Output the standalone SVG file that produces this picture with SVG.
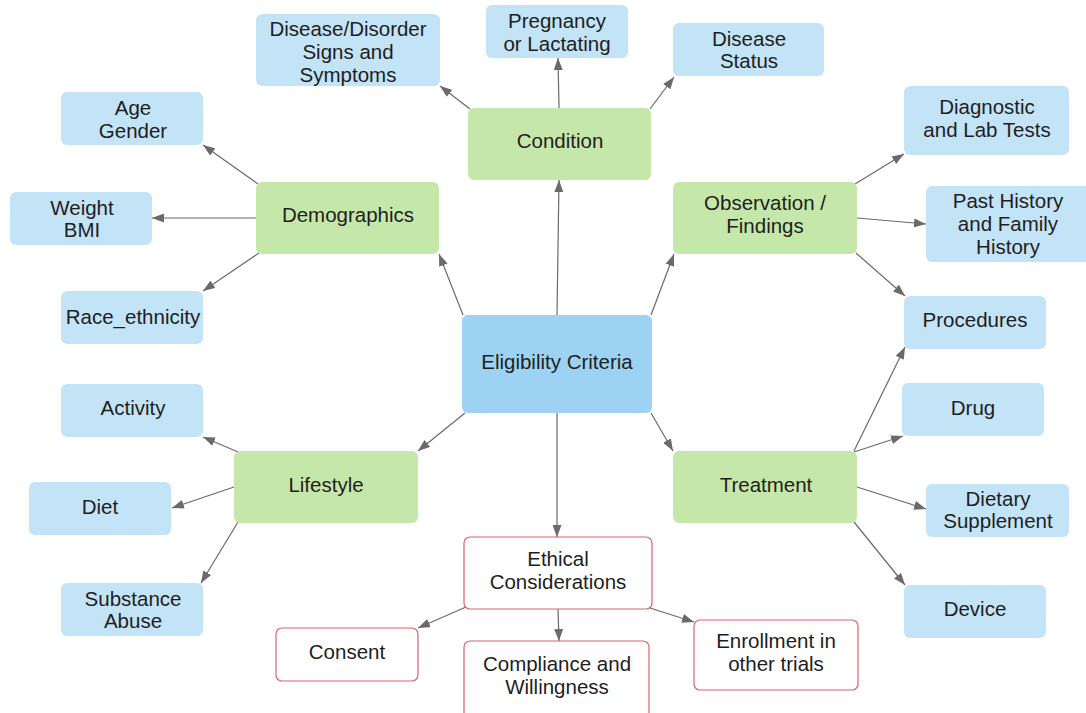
<svg xmlns="http://www.w3.org/2000/svg" width="1086" height="713" viewBox="0 0 1086 713">
<style>
.b{fill:#c3e3f6;}
.g{fill:#c6e7aa;}
.c{fill:#9dd2f2;}
.r{fill:#ffffff;stroke:#d9656b;stroke-width:1.2;}
text{font-family:"Liberation Sans",Arial,sans-serif;font-size:20.5px;fill:#1e1e1e;text-anchor:middle;}
.e line{stroke:#6a6a6a;stroke-width:1.2;marker-end:url(#ah);}
</style>
<defs>
<marker id="ah" viewBox="0 0 12 9" refX="12" refY="4.5" markerWidth="12" markerHeight="9" orient="auto" markerUnits="userSpaceOnUse">
<path d="M0,0 L12,4.5 L0,9 z" fill="#6a6a6a"/>
</marker>
</defs>
<rect width="1086" height="713" fill="#ffffff"/>
<g class="e" id="connectors">
<line x1="557" y1="315" x2="559" y2="180"/>
<line x1="463" y1="315" x2="439" y2="254"/>
<line x1="651" y1="315" x2="674" y2="254"/>
<line x1="465" y1="413" x2="418" y2="451"/>
<line x1="651" y1="413" x2="673" y2="451"/>
<line x1="557" y1="413" x2="557" y2="537"/>
<line x1="470" y1="109" x2="440" y2="86"/>
<line x1="559" y1="108" x2="558" y2="58"/>
<line x1="650" y1="109" x2="674" y2="77"/>
<line x1="258" y1="184" x2="203" y2="145"/>
<line x1="256" y1="218" x2="152" y2="218"/>
<line x1="259" y1="253" x2="203" y2="291"/>
<line x1="855" y1="184" x2="904" y2="154"/>
<line x1="857" y1="218" x2="926" y2="224"/>
<line x1="856" y1="253" x2="905" y2="296"/>
<line x1="854" y1="451" x2="905" y2="347"/>
<line x1="854" y1="452" x2="903" y2="436"/>
<line x1="857" y1="487" x2="926" y2="509"/>
<line x1="854" y1="522" x2="905" y2="585"/>
<line x1="238" y1="452" x2="203" y2="437"/>
<line x1="234" y1="487" x2="172" y2="508"/>
<line x1="238" y1="522" x2="201" y2="583"/>
<line x1="466" y1="607" x2="418" y2="628"/>
<line x1="558" y1="609" x2="559" y2="641"/>
<line x1="650" y1="608" x2="694" y2="622"/>
</g>
<g id="n-dis-signs"><rect class="b" x="256" y="14" width="184" height="72" rx="6"/><text x="348" y="36">Disease/Disorder</text><text x="348" y="59">Signs and</text><text x="348" y="82">Symptoms</text></g>
<g id="n-pregnancy"><rect class="b" x="486" y="5" width="142" height="53" rx="6"/><text x="557" y="28">Pregnancy</text><text x="557" y="51">or Lactating</text></g>
<g id="n-disease-status"><rect class="b" x="673" y="23" width="151" height="53" rx="6"/><text x="749" y="46">Disease</text><text x="749" y="68">Status</text></g>
<g id="n-condition"><rect class="g" x="468" y="108" width="183" height="72" rx="6"/><text x="560" y="148">Condition</text></g>
<g id="n-age"><rect class="b" x="61" y="92" width="142" height="53" rx="6"/><text x="133" y="115">Age</text><text x="133" y="138">Gender</text></g>
<g id="n-demographics"><rect class="g" x="256" y="182" width="183" height="72" rx="6"/><text x="348" y="222">Demographics</text></g>
<g id="n-weight"><rect class="b" x="10" y="192" width="142" height="53" rx="6"/><text x="82" y="215">Weight</text><text x="82" y="237">BMI</text></g>
<g id="n-race"><rect class="b" x="61" y="291" width="142" height="53" rx="6"/><text x="133" y="324">Race_ethnicity</text></g>
<g id="n-diagnostic"><rect class="b" x="904" y="86" width="165" height="69" rx="6"/><text x="987" y="114">Diagnostic</text><text x="987" y="137">and Lab Tests</text></g>
<g id="n-observation"><rect class="g" x="673" y="182" width="184" height="72" rx="6"/><text x="765" y="210">Observation /</text><text x="765" y="233">Findings</text></g>
<g id="n-past-history"><rect class="b" x="926" y="186" width="166" height="76" rx="6"/><text x="1008" y="208">Past History</text><text x="1008" y="231">and Family</text><text x="1008" y="254">History</text></g>
<g id="n-procedures"><rect class="b" x="904" y="296" width="142" height="53" rx="6"/><text x="975" y="327">Procedures</text></g>
<g id="n-eligibility"><rect class="c" x="462" y="315" width="190" height="98" rx="6"/><text x="557" y="369">Eligibility Criteria</text></g>
<g id="n-activity"><rect class="b" x="61" y="384" width="142" height="53" rx="6"/><text x="133" y="415">Activity</text></g>
<g id="n-lifestyle"><rect class="g" x="234" y="451" width="184" height="72" rx="6"/><text x="326" y="492">Lifestyle</text></g>
<g id="n-diet"><rect class="b" x="29" y="482" width="142" height="53" rx="6"/><text x="100" y="514">Diet</text></g>
<g id="n-drug"><rect class="b" x="902" y="383" width="142" height="53" rx="6"/><text x="973" y="415">Drug</text></g>
<g id="n-treatment"><rect class="g" x="673" y="451" width="184" height="72" rx="6"/><text x="766" y="492">Treatment</text></g>
<g id="n-dietary"><rect class="b" x="926" y="484" width="143" height="53" rx="6"/><text x="998" y="506">Dietary</text><text x="998" y="528">Supplement</text></g>
<g id="n-substance"><rect class="b" x="61" y="583" width="142" height="53" rx="6"/><text x="133" y="606">Substance</text><text x="133" y="628">Abuse</text></g>
<g id="n-device"><rect class="b" x="904" y="585" width="142" height="53" rx="6"/><text x="975" y="616">Device</text></g>
<g id="n-ethical"><rect class="r" x="464" y="537" width="188" height="72" rx="6"/><text x="558" y="566">Ethical</text><text x="558" y="589">Considerations</text></g>
<g id="n-consent"><rect class="r" x="276" y="628" width="142" height="53" rx="6"/><text x="347" y="659">Consent</text></g>
<g id="n-compliance"><rect class="r" x="464" y="641" width="185" height="80" rx="6"/><text x="557" y="671">Compliance and</text><text x="557" y="694">Willingness</text></g>
<g id="n-enrollment"><rect class="r" x="694" y="620" width="164" height="70" rx="6"/><text x="776" y="648">Enrollment in</text><text x="776" y="671">other trials</text></g>
</svg>
